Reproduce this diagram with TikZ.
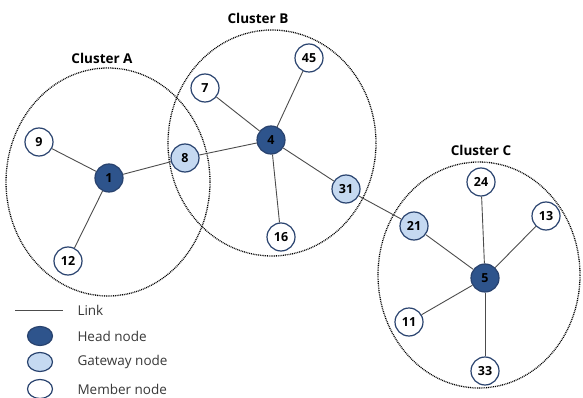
\documentclass[tikz,border=0pt]{standalone}
\usepackage{fontspec}
\setmainfont{Open Sans}
\usetikzlibrary{calc, shapes}

\definecolor{headblue}{RGB}{46,84,140}
\definecolor{gateblue}{RGB}{197,217,241}
\definecolor{rimblue}{RGB}{40,66,110}

\begin{document}
\begin{tikzpicture}[
  x=1pt, y=-1pt,
  every text node part/.style={align=center},
  nodesty/.style={draw=rimblue, line width=1.2pt, circle, minimum size=28pt, inner sep=0pt, font=\bfseries\fontsize{12.5}{12.5}\selectfont},
  head/.style={nodesty, fill=headblue, text=black},
  gate/.style={nodesty, fill=gateblue},
  member/.style={nodesty, fill=white},
  link/.style={draw=black!70, line width=0.9pt},
  clus/.style={draw=black, line width=1.3pt, dash pattern=on 0.9pt off 0.9pt},
  clab/.style={font=\bfseries\fontsize{13.5}{13.5}\selectfont},
  legtxt/.style={anchor=west, text=black!78, font=\fontsize{13.5}{13.5}\selectfont}
]
%general params
\def\rx{102}
\def\ry{114}

\useasboundingbox (0,0) rectangle (583,398);

% clusters
\draw[clus] (108,182) ellipse ({\rx} and {\ry});
\draw[clus] (272,143) ellipse ({\rx+2} and {\ry-1});
\draw[clus] (479,275) ellipse ({\rx-1} and {\ry-1});

\node[clab] (LA) at (102,58) {Cluster A};
\node[clab] (LB) at (258,18) {Cluster B};
\node[clab] (LC) at (481,150) {Cluster C};

% cluster A
\node[head]   (N1)  at (109,178) {1};
\node[member] (N9)  at (39,142)  {9};
\node[member] (N12) at (68,261)  {12};
\node[gate]   (N8)  at (185,158) {8};

% cluster B
\node[head]   (N4)  at (271,140) {4};
\node[member] (N7)  at (205,88)  {7};
\node[member] (N45) at (309,58)  {45};
\node[member] (N16) at (281,237) {16};
\node[gate]   (N31) at (346,189) {31};

% cluster C
\node[head]   (N5)  at (485,278) {5};
\node[gate]   (N21) at (414,226) {21};
\node[member] (N24) at (481,182) {24};
\node[member] (N13) at (546,216) {13};
\node[member] (N11) at (409,322) {11};
\node[member] (N33) at (485,371) {33};

% links
\draw[link] (N9) -- (N1);
\draw[link] (N12) -- (N1);
\draw[link] (N1) -- (N8);
\draw[link] (N8) -- (N4);
\draw[link] (N7) -- (N4);
\draw[link] (N45) -- (N4);
\draw[link] (N16) -- (N4);
\draw[link] (N4) -- (N31);
\draw[link] (N31) -- (N21);
\draw[link] (N21) -- (N5);
\draw[link] (N24) -- (N5);
\draw[link] (N13) -- (N5);
\draw[link] (N11) -- (N5);
\draw[link] (N33) -- (N5);

% legend
\coordinate (LL1) at (15,310);
\coordinate (LL2) at (63,310);
\draw[link] (LL1) -- (LL2);
\node[legtxt] (TLink) at (74,310) {Link};

\draw[draw=rimblue, line width=1.2pt, fill=headblue] (40,336) ellipse (12.5 and 9.5);
\node[legtxt] (THead) at (74,336) {Head node};
\draw[draw=rimblue, line width=1.2pt, fill=gateblue] (40,362) ellipse (12.5 and 9.5);
\node[legtxt] (TGate) at (74,362) {Gateway node};
\draw[draw=rimblue, line width=1.2pt, fill=white] (40,389) ellipse (12.5 and 9.5);
\node[legtxt] (TMem) at (74,389) {Member node};

\end{tikzpicture}
\end{document}
